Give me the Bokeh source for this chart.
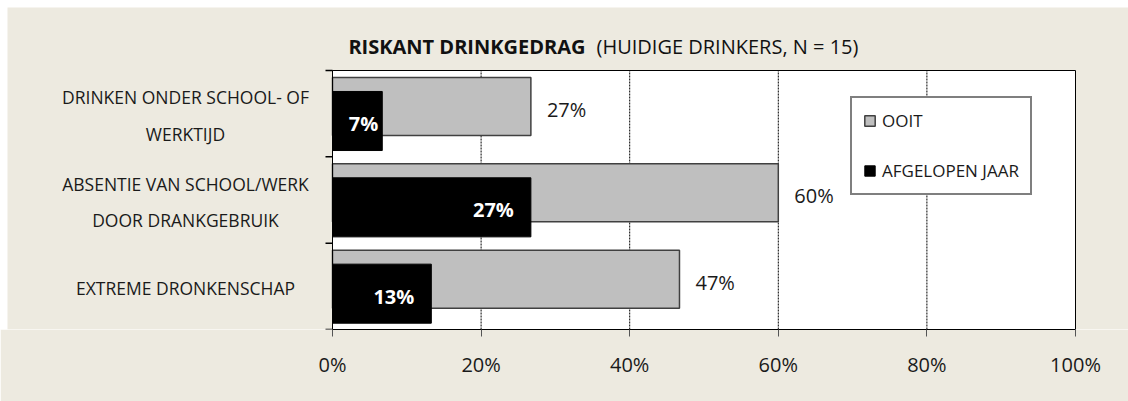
from bokeh.plotting import figure
from bokeh.models import (ColumnDataSource, Range1d, FixedTicker, PrintfTickFormatter,
                          LabelSet, Label, Legend, LegendItem)
from bokeh.transform import dodge
from bokeh.core.properties import value
from bokeh.embed import file_html
from bokeh.resources import INLINE

# ---------------- data ----------------
category_lines = [
    ["DRINKEN ONDER SCHOOL- OF", "WERKTIJD"],
    ["ABSENTIE VAN SCHOOL/WERK", "DOOR DRANKGEBRUIK"],
    ["EXTREME DRONKENSCHAP"],
]
categories = [" ".join(lines) for lines in category_lines]
series_names = ["OOIT", "AFGELOPEN JAAR"]
ooit = [26.7, 60.0, 46.7]            # percent
afgelopen_jaar = [6.7, 26.7, 13.3]   # percent
x_ticks = [0, 20, 40, 60, 80, 100]
title_bold = "RISKANT DRINKGEDRAG"
title_rest = "(HUIDIGE DRINKERS, N = 15)"

# ---------------- layout / style ----------------
W, H = 1128, 401
PL, PR, PT, PB = 332, 1075, 70, 329          # plot-area edges in pixels
BEIGE = "#EDEAE0"
FONT = "Open Sans"
TXT = "#1a1a1a"
GRAY_OFF, GRAY_H = 0.083, 0.672
BLACK_OFF, BLACK_H = -0.085, 0.684

n_cat = len(categories)
XMAX = x_ticks[-1]
xpx = XMAX / (PR - PL)          # data units per pixel (x)
ypx = n_cat / (PB - PT)         # data units per pixel (y)
pos = [n_cat - i - 0.5 for i in range(n_cat)]   # band centres, first category on top

p = figure(width=W, height=H, title=None,
           x_range=Range1d(-PL * xpx, (W - PL) * xpx),
           y_range=Range1d(0, PB * ypx),
           output_backend="svg", toolbar_location=None, y_axis_location=None,
           min_border_left=0, min_border_right=0, min_border_top=0, min_border_bottom=H - PB,
           background_fill_color="white", border_fill_color=BEIGE,
           outline_line_color=None)
p.xgrid.visible = False
p.ygrid.visible = False

# beige chart area (thin white strip top/left like the source page)
p.quad(left=(7 - PL) * xpx, right=(W - PL) * xpx, bottom=0, top=(PB - 7) * ypx,
       fill_color=BEIGE, line_color=None)
# white plot area with border
p.quad(left=0, right=XMAX, bottom=0, top=n_cat, fill_color="white",
       line_color="black", line_width=1)
# vertical dotted gridlines
inner = x_ticks[1:-1]
p.segment(x0=inner, x1=inner, y0=[0] * len(inner), y1=[n_cat] * len(inner),
          line_color="black", line_dash="2 1", line_width=1)

# x axis
xa = p.xaxis[0]
xa.bounds = (0, XMAX)
xa.ticker = FixedTicker(ticks=x_ticks)
xa.formatter = PrintfTickFormatter(format="%d%%")
xa.major_label_text_font = FONT
xa.major_label_text_font_size = "20px"
xa.major_label_text_color = TXT
xa.major_label_standoff = 14
xa.major_tick_out = 7
xa.major_tick_in = 0
xa.minor_tick_out = 0
xa.minor_tick_in = 0
xa.axis_line_color = "black"
xa.major_tick_line_color = "#555555"

# bars
def pct(v):
    return f"{round(v)}%"

jaar_off = [-17 if v / xpx > 80 else -4 for v in afgelopen_jaar]
src = ColumnDataSource(dict(cat=categories, pos=pos, ooit=ooit, jaar=afgelopen_jaar,
                            ooit_lbl=[pct(v) for v in ooit],
                            jaar_lbl=[pct(v) for v in afgelopen_jaar],
                            jaar_off=jaar_off))

g = p.hbar(y=dodge("pos", GRAY_OFF), left=0, right="ooit", height=GRAY_H,
           fill_color="#BFBFBF", line_color="#404040", line_width=1.5, source=src)
b = p.hbar(y=dodge("pos", BLACK_OFF), left=0, right="jaar", height=BLACK_H,
           fill_color="black", line_color="black", line_width=1, source=src)

# left axis line + ticks at band boundaries
bounds = list(range(n_cat + 1))
p.segment(x0=[0], x1=[0], y0=[0], y1=[n_cat], line_color="black", line_width=1)
p.segment(x0=[-7 * xpx] * len(bounds), x1=[0] * len(bounds), y0=bounds, y1=bounds,
          line_color="black", line_width=1.5)

# value labels
p.add_layout(LabelSet(x="ooit", y=dodge("pos", GRAY_OFF - 0.035),
                      text="ooit_lbl", x_offset=16, text_align="left", text_baseline="middle",
                      text_font=value(FONT), text_font_size="20px", text_color=TXT, source=src))
p.add_layout(LabelSet(x="jaar", y=dodge("pos", BLACK_OFF - 0.03),
                      text="jaar_lbl", x_offset="jaar_off", text_align="right", text_baseline="middle",
                      text_font=value(FONT), text_font_style=value("bold"), text_font_size="20px",
                      text_color="white", source=src))

# category labels (multi-line, centred)
cl_pos, cl_txt, cl_off = [], [], []
for y, lines in zip(pos, category_lines):
    n = len(lines)
    for i, line in enumerate(lines):
        cl_pos.append(y)
        cl_txt.append(line)
        cl_off.append(-((i - (n - 1) / 2) * 36.5 + 2))
csrc = ColumnDataSource(dict(pos=cl_pos, txt=cl_txt, off=cl_off))
p.add_layout(LabelSet(x=185, x_units="screen", y="pos", y_offset="off", text="txt",
                      text_align="center", text_baseline="middle",
                      text_font=value(FONT), text_font_size="17.5px", text_color=TXT, source=csrc))

# title (bold + normal part)
p.add_layout(Label(x=585, y=PB - 46, x_units="screen", y_units="screen", text=title_bold,
                   text_align="right", text_baseline="middle", text_font=FONT,
                   text_font_style="bold", text_font_size="20px", text_color="#111111"))
p.add_layout(Label(x=596, y=PB - 46, x_units="screen", y_units="screen", text=title_rest,
                   text_align="left", text_baseline="middle", text_font=FONT,
                   text_font_style="normal", text_font_size="20px", text_color="#111111"))

# legend
legend = Legend(items=[LegendItem(label=series_names[0], renderers=[g]),
                       LegendItem(label=series_names[1], renderers=[b])],
                location=(850, PB - 195), orientation="vertical",
                glyph_width=13, glyph_height=13, label_standoff=6,
                padding=11, spacing=27, margin=0,
                border_line_color="black", border_line_width=2,
                background_fill_color="white", background_fill_alpha=1,
                label_text_font=FONT, label_text_font_size="17px", label_text_color=TXT)
p.add_layout(legend)

open("out.html", "w").write(file_html(p, INLINE))
